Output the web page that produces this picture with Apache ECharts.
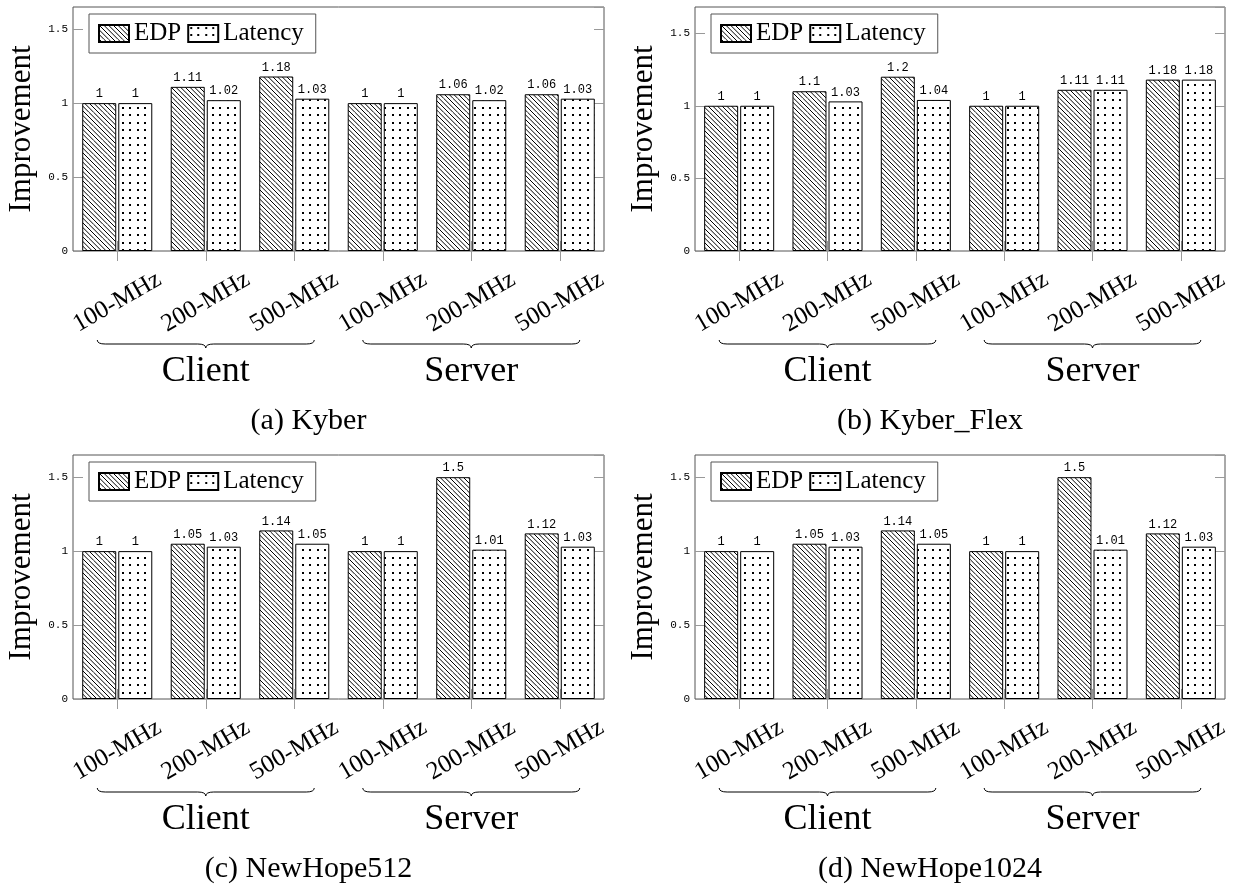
<!DOCTYPE html>
<html>
<head>
<meta charset="utf-8">
<script src="https://cdn.jsdelivr.net/npm/echarts@6/dist/echarts.min.js"></script>
<style>
  html, body { margin: 0; padding: 0; background: #fff; }
  #chart { width: 1237px; height: 886px; }
</style>
</head>
<body>
<div id="chart"></div>
<script>
// Frequency points, grouped into Client and Server halves
const categories = ['100-MHz', '200-MHz', '500-MHz', '100-MHz', '200-MHz', '500-MHz'];
const groupNames = ['Client', 'Server'];
const seriesNames = ['EDP', 'Latency'];
const panelTitles = ['(a) Kyber', '(b) Kyber_Flex', '(c) NewHope512', '(d) NewHope1024'];

// Improvement values per scheme
const kyberEDP = [1, 1.11, 1.18, 1, 1.06, 1.06];
const kyberLatency = [1, 1.02, 1.03, 1, 1.02, 1.03];
const kyberFlexEDP = [1, 1.1, 1.2, 1, 1.11, 1.18];
const kyberFlexLatency = [1, 1.03, 1.04, 1, 1.11, 1.18];
const newHope512EDP = [1, 1.05, 1.14, 1, 1.5, 1.12];
const newHope512Latency = [1, 1.03, 1.05, 1, 1.01, 1.03];
const newHope1024EDP = [1, 1.05, 1.14, 1, 1.5, 1.12];
const newHope1024Latency = [1, 1.03, 1.05, 1, 1.01, 1.03];

// Y axis: ticks every 0.5 from 0, upper limit per panel
const yTickStep = 0.5;
const yMaxes = [1.65, 1.68, 1.65, 1.65];

const panelData = [
  [kyberEDP, kyberLatency],
  [kyberFlexEDP, kyberFlexLatency],
  [newHope512EDP, newHope512Latency],
  [newHope1024EDP, newHope1024Latency]
];

// Plot rectangles for the 2x2 layout
const gridBoxes = [
  { left: 73, top: 7, width: 531, height: 244 },
  { left: 695, top: 7, width: 530, height: 244 },
  { left: 73, top: 455, width: 531, height: 244 },
  { left: 695, top: 455, width: 530, height: 244 }
];

const SERIF = 'Liberation Serif';
const MONO = 'Liberation Mono';
const FRAME = '#555';
const TICK = '#999';

// Hatch fills: "\" lines for EDP, dot grid for Latency
function hatchPattern() {
  const s = 14, c = document.createElement('canvas');
  c.width = s; c.height = s;
  const g = c.getContext('2d');
  g.fillStyle = '#fff'; g.fillRect(0, 0, s, s);
  g.strokeStyle = '#000'; g.lineWidth = 1;
  const step = s / 3;
  for (let k = -4; k <= 4; k++) {
    const x0 = k * step;
    g.beginPath(); g.moveTo(x0, 0); g.lineTo(x0 + s, s); g.stroke();
  }
  return { image: c, repeat: 'repeat' };
}
function dotPattern() {
  const s = 15, c = document.createElement('canvas');
  c.width = s; c.height = s;
  const g = c.getContext('2d');
  g.fillStyle = '#fff'; g.fillRect(0, 0, s, s);
  g.fillStyle = '#000';
  [[2, 2], [9, 2], [2, 9], [9, 9]].forEach(([x, y]) => g.fillRect(x, y, 2, 2));
  return { image: c, repeat: 'repeat' };
}
const fills = [hatchPattern(), dotPattern()];

const option = {
  backgroundColor: '#fff',
  animation: false,
  grid: [], xAxis: [], yAxis: [], legend: [], series: []
};

gridBoxes.forEach((box, i) => {
  option.grid.push(Object.assign({
    show: true, borderColor: FRAME, borderWidth: 1, backgroundColor: 'transparent'
  }, box));

  const tickStyle = { show: true, alignWithLabel: true, inside: false, length: 10, lineStyle: { color: TICK, width: 1 } };
  option.xAxis.push({
    type: 'category', gridIndex: i, position: 'bottom', data: categories,
    axisLine: { show: false }, axisTick: tickStyle,
    axisLabel: {
      interval: 0, rotate: 30, align: 'center', verticalAlign: 'middle', margin: 51,
      fontFamily: SERIF, fontSize: 25, color: '#000'
    }
  });
  option.xAxis.push({
    type: 'category', gridIndex: i, position: 'top', data: categories,
    axisLine: { show: false }, axisTick: tickStyle, axisLabel: { show: false }
  });

  const yTick = { show: true, inside: true, length: 10, lineStyle: { color: TICK, width: 1 } };
  option.yAxis.push({
    type: 'value', gridIndex: i, position: 'left', min: 0, max: yMaxes[i], interval: yTickStep,
    splitLine: { show: false }, axisLine: { show: false }, axisTick: yTick,
    axisLabel: { fontFamily: MONO, fontSize: 11, color: '#000', margin: 5, showMaxLabel: false },
    name: 'Improvement', nameLocation: 'middle', nameGap: 36,
    nameTextStyle: { fontFamily: SERIF, fontSize: 31, color: '#000' }
  });
  option.yAxis.push({
    type: 'value', gridIndex: i, position: 'right', min: 0, max: yMaxes[i], interval: yTickStep,
    splitLine: { show: false }, axisLine: { show: false }, axisTick: yTick,
    axisLabel: { show: false }
  });

  option.legend.push({
    data: seriesNames, left: box.left + 16, top: box.top + 7,
    orient: 'horizontal', icon: 'rect', itemWidth: 30, itemHeight: 17, itemGap: 6,
    padding: [7, 12, 7, 9], borderColor: FRAME, borderWidth: 1, selectedMode: false,
    textStyle: { fontFamily: SERIF, fontSize: 25, color: '#000' }
  });

  seriesNames.forEach((name, s) => {
    option.series.push({
      type: 'bar', name: name, xAxisIndex: 2 * i, yAxisIndex: 2 * i,
      data: panelData[i][s], barWidth: 34, barGap: '6%',
      itemStyle: { color: fills[s], borderColor: '#000', borderWidth: 1 },
      label: {
        show: true, position: 'top', distance: 3,
        fontFamily: MONO, fontSize: 12, color: '#000'
      }
    });
  });
});

const chart = echarts.init(document.getElementById('chart'), null, { renderer: 'canvas' });
chart.setOption(option);

// Curly brace under a category range, built from curve and line pieces
function braceParts(x1, x2, y0, depth) {
  const xm = (x1 + x2) / 2, r = depth / 2, ym = y0 + r, yt = y0 + depth, w = depth;
  const stroke = { fill: null, stroke: '#000', lineWidth: 1 };
  const curve = (a, b, c, d, e, f) => ({
    type: 'bezierCurve', silent: true,
    shape: { x1: a, y1: b, x2: c, y2: d, cpx1: e, cpy1: f }, style: stroke
  });
  const line = (a, b, c, d) => ({
    type: 'line', silent: true, shape: { x1: a, y1: b, x2: c, y2: d }, style: stroke
  });
  return [
    curve(x1, y0, x1 + w, ym, x1, ym),
    line(x1 + w, ym, xm - w, ym),
    curve(xm - w, ym, xm, yt, xm, ym),
    curve(xm, yt, xm + w, ym, xm, ym),
    line(xm + w, ym, x2 - w, ym),
    curve(x2 - w, ym, x2, y0, x2, ym)
  ];
}

const graphics = [];
gridBoxes.forEach((box, i) => {
  const xi = 2 * i, yi = 2 * i;
  const px = idx => chart.convertToPixel({ xAxisIndex: xi }, idx);
  const yBase = chart.convertToPixel({ yAxisIndex: yi }, 0);
  groupNames.forEach((g, k) => {
    const x1 = px(3 * k) - 20, x2 = px(3 * k + 2) + 20;
    braceParts(x1, x2, yBase + 89, 8).forEach(el => graphics.push(el));
    graphics.push({
      type: 'text', silent: true, x: (x1 + x2) / 2, y: yBase + 121,
      style: { text: g, fontFamily: SERIF, fontSize: 36, fill: '#000', align: 'center', verticalAlign: 'middle' }
    });
  });
  // caption sits under the whole sub-figure, y-axis title included
  const cx = (px(0) + px(5)) / 2 - 30;
  graphics.push({
    type: 'text', silent: true, x: cx, y: yBase + 170,
    style: { text: panelTitles[i], fontFamily: SERIF, fontSize: 30, fill: '#000', align: 'center', verticalAlign: 'middle' }
  });
});
chart.setOption({ graphic: graphics });
</script>
</body>
</html>
